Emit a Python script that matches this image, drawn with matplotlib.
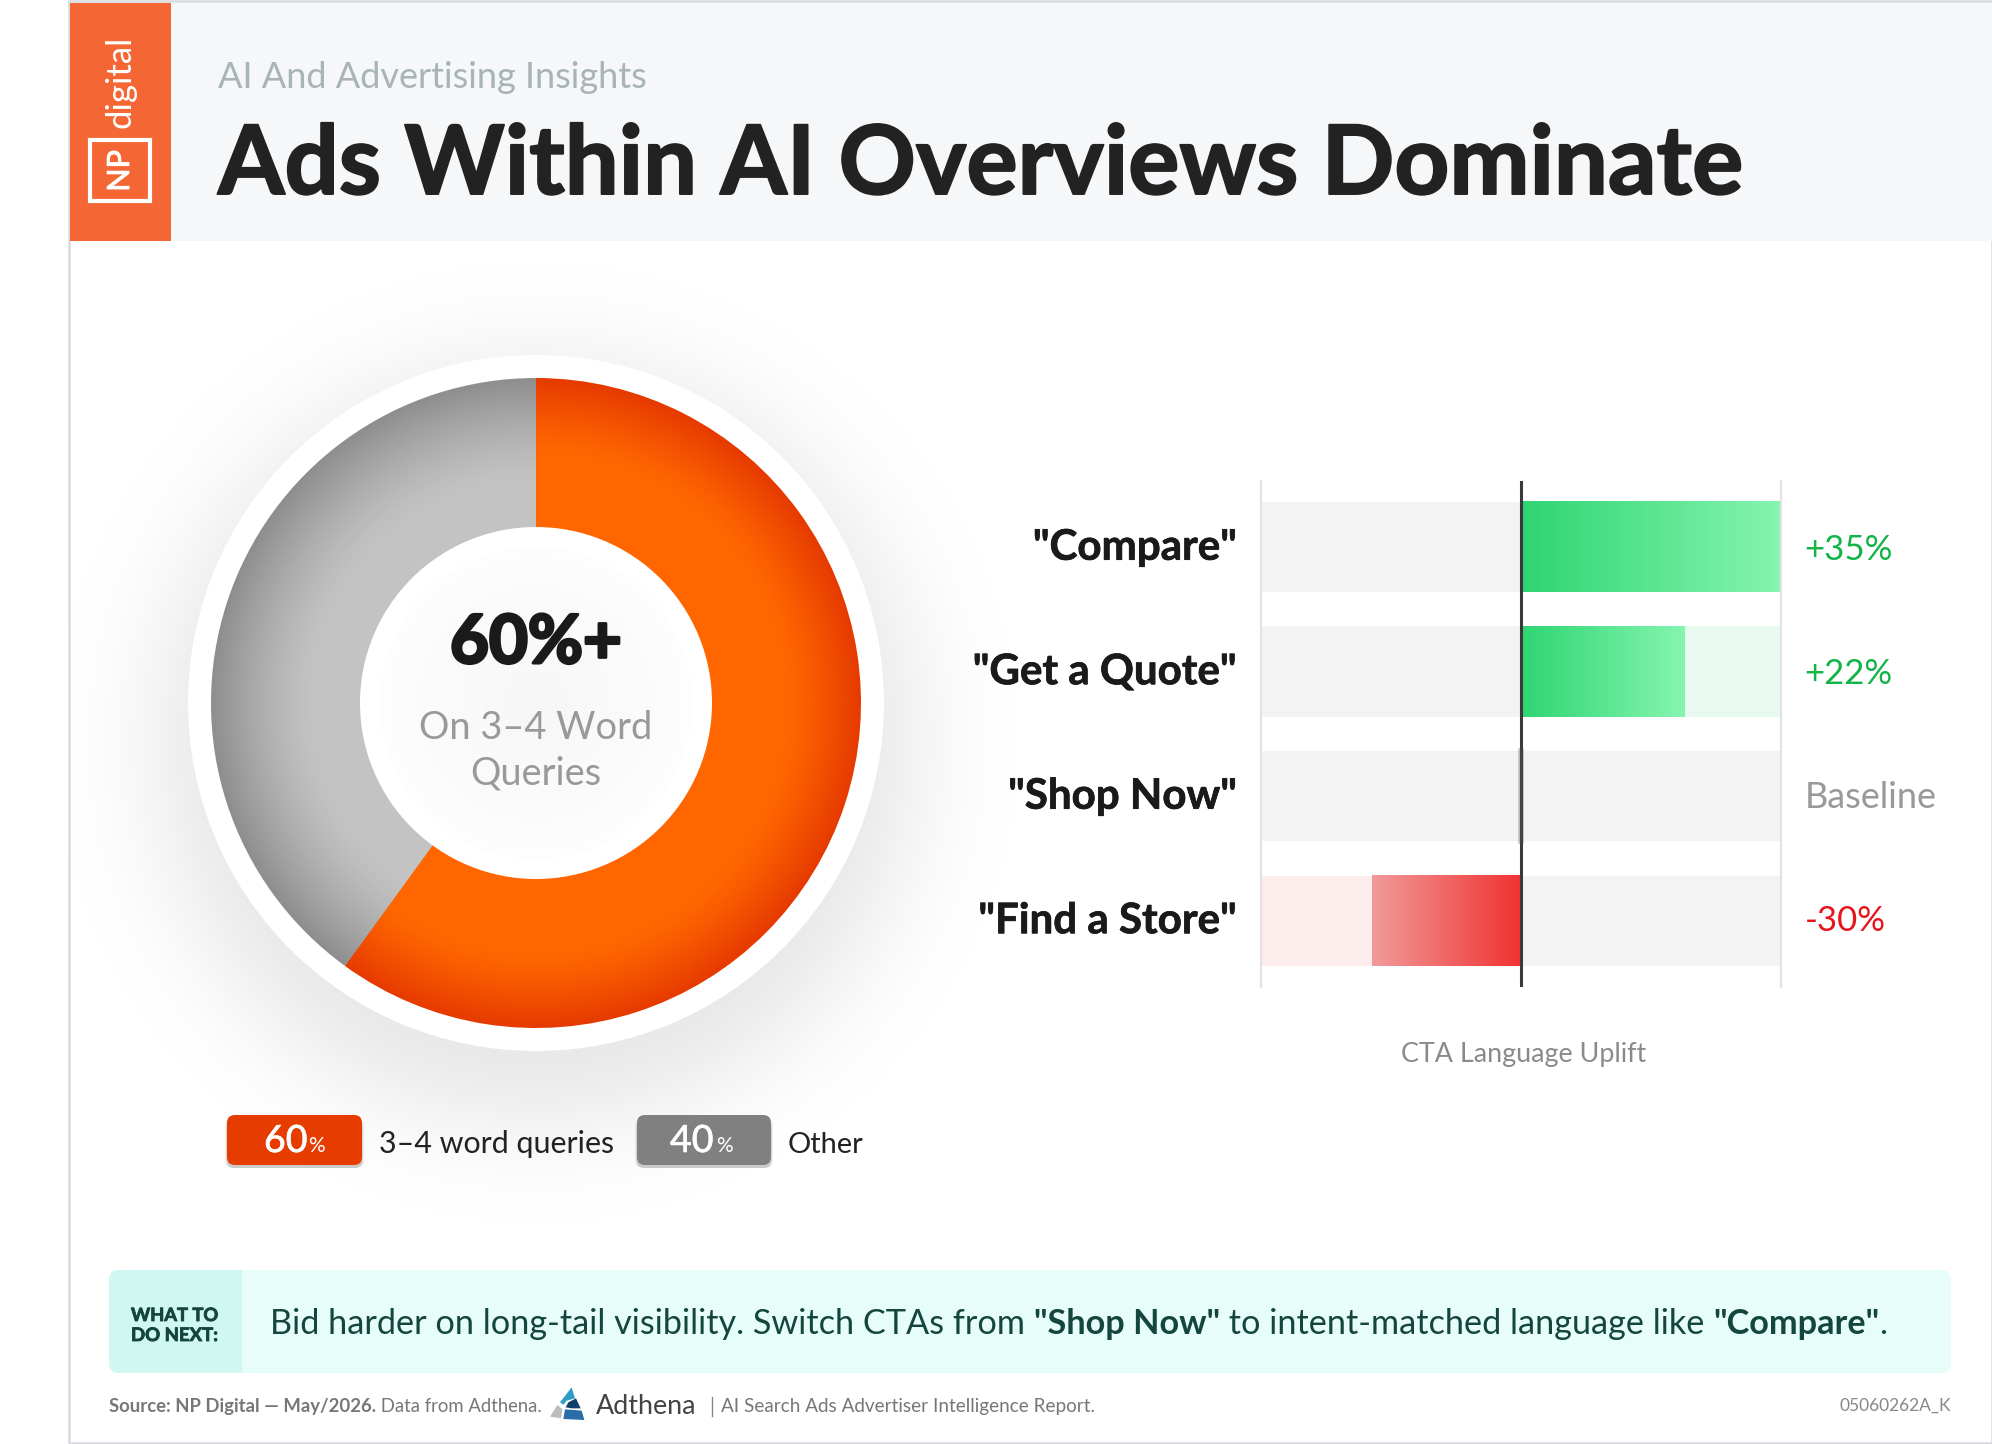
import numpy as np
import matplotlib
matplotlib.use("Agg")
import matplotlib.pyplot as plt
import matplotlib.patheffects as pe
from matplotlib.colors import LinearSegmentedColormap, to_rgb
from matplotlib.patches import Circle, FancyBboxPatch, Polygon, Rectangle

# chart values
donut_shares = [60, 40]
donut_center_big = "60%+"
donut_center_small = ["On 3–4 Word", "Queries"]
legend_values = ["60", "40"]
legend_labels = ["3–4 word queries", "Other"]
legend_colors = ["#E63C00", "#808080"]

cta_labels = ['"Compare"', '"Get a Quote"', '"Shop Now"', '"Find a Store"']
cta_texts = ["+35%", "+22%", "Baseline", "-30%"]
cta_text_colors = ["#12B347", "#12B347", "#999999", "#E8141C"]
# bar lengths as drawn in the picture (the red one is shorter than its label says)
cta_lengths = [35, 22, 0, -20]

W, H = 1992, 1444
plt.rcParams["font.family"] = ["Lato", "DejaVu Sans"]
fig = plt.figure(figsize=(W / 100, H / 100), dpi=100, facecolor="white")
renderer = fig.canvas.get_renderer()


def mix(c1, c2, t):
    a, b = np.array(to_rgb(c1)), np.array(to_rgb(c2))
    return tuple(a + (b - a) * t)


def px_axes(x0, y0, x1, y1, z=1):
    return fig.add_axes([x0 / W, 1 - y1 / H, (x1 - x0) / W, (y1 - y0) / H], zorder=z)


def thicken(t, lw):
    t.set_path_effects([pe.withStroke(linewidth=lw, foreground=t.get_color())])
    return t


def text_width(s, size, weight):
    probe = bg.text(0, 0, s + "|", fontsize=size, fontweight=weight)
    end = bg.text(0, 0, "|", fontsize=size, fontweight=weight)
    w = probe.get_window_extent(renderer).width - end.get_window_extent(renderer).width
    probe.remove()
    end.remove()
    return w


def fit(x, y, s, width, weight="normal", color="#222222", ha="left", z=5):
    # picks the font size that makes s as wide as width pixels
    size = 20 * width / text_width(s, 20, weight)
    return bg.text(x, y, s, fontsize=size, fontweight=weight, color=color, ha=ha, va="baseline", zorder=z)


def run(x, y, pieces, width, color):
    # one line of mixed weights, scaled to a total width
    total = sum(text_width(s, 20, w) for s, w in pieces)
    size = 20 * width / total
    for s, w in pieces:
        bg.text(x, y, s, fontsize=size, fontweight=w, color=color, va="baseline", zorder=5)
        x += text_width(s, size, w)


# background layer in pixel coordinates
bg = px_axes(0, 0, W, H, z=0)
bg.set_xlim(0, W)
bg.set_ylim(H, 0)
bg.axis("off")

# soft shadow behind the donut
yy, xx = np.mgrid[241:1300:2, 70:1150:2]
dist = np.hypot(xx - 536, yy - 742)
alpha = 0.09 * np.exp(-0.5 * (np.maximum(dist - 300, 0) / 72) ** 2)
shadow = np.zeros(dist.shape + (4,))
shadow[..., 3] = alpha
bg.imshow(shadow, extent=(70, 1150, 1300, 241), aspect="auto", zorder=1)
bg.set_xlim(0, W)
bg.set_ylim(H, 0)

# frame and header
bg.add_patch(Rectangle((69, 1), W - 69, H - 2, fc="none", ec="#D8DADD", lw=1.8, zorder=2))
bg.add_patch(Rectangle((171, 3), W - 171, 238, fc="#F6F7F9", ec="none", zorder=2))
bg.add_patch(Rectangle((70, 3), 101, 238, fc="#F46735", ec="none", zorder=3))
bg.add_patch(Rectangle((90, 140), 60, 61, fc="none", ec="white", lw=3, zorder=4))
thicken(bg.text(120, 171, "NP", color="white", fontsize=22, rotation=90, ha="center", va="center", zorder=5), 0.7)
bg.text(120, 128, "digital", color="white", fontsize=25, rotation=90, ha="center", va="bottom", zorder=5)

fit(218, 88, "AI And Advertising Insights", 431, color="#A9B4B8")
thicken(fit(218, 194, "Ads Within AI Overviews Dominate", 1525, weight="bold", color="#222222"), 1.4)

# legend badges
badge_boxes = [(227, 362), (637, 771)]
number_x = [(264, 308), (670, 716)]
label_x = [(379, 236), (788, 76)]
for i in range(2):
    x0, x1 = badge_boxes[i]
    for k in range(6):
        bg.add_patch(FancyBboxPatch((x0 - 2 + k * 0.4, 1118 + k), x1 - x0 + 4 - k * 0.8, 50 - k,
                                    boxstyle="round,pad=0,rounding_size=8", fc="black", ec="none",
                                    alpha=0.035, zorder=3))
    bg.add_patch(FancyBboxPatch((x0, 1115), x1 - x0, 50, boxstyle="round,pad=0,rounding_size=8",
                                fc=legend_colors[i], ec="none", zorder=4))
    a, b = number_x[i]
    thicken(bg.text(a, 1152, legend_values[i], fontsize=27, color="white", va="baseline", zorder=5), 0.5)
    bg.text(b, 1152, "%", fontsize=15, color="white", va="baseline", zorder=5)
    fit(label_x[i][0], 1153, legend_labels[i], label_x[i][1], color="#222222")

# call to action box
bg.add_patch(FancyBboxPatch((109, 1270), 1842, 103, boxstyle="round,pad=0,rounding_size=10",
                            fc="#E6FDFA", ec="none", zorder=2))
left = FancyBboxPatch((109, 1270), 200, 103, boxstyle="round,pad=0,rounding_size=10",
                      fc="#D0F7F2", ec="none", zorder=3)
bg.add_patch(left)
left.set_clip_path(Rectangle((100, 1260), 142, 125, transform=bg.transData))
thicken(fit(131, 1321, "WHAT TO", 87, weight="bold", color="#14463E"), 0.6)
thicken(fit(131, 1341, "DO NEXT:", 87, weight="bold", color="#14463E"), 0.6)
run(270, 1334, [("Bid harder on long-tail visibility. Switch CTAs from ", "normal"),
                ('"Shop Now"', "bold"),
                (" to intent-matched language like ", "normal"),
                ('"Compare"', "bold"), (".", "normal")], 1620, "#14463E")

# footer
run(109, 1412, [("Source: NP Digital — May/2026.", "bold"), (" Data from Adthena.", "normal")], 433, "#777777")
logo = [("#2E9CC4", [(125, 52), (135, 85), (110, 92), (100, 104), (90, 97)]),
        ("#123F6D", [(138, 85), (152, 115), (125, 115), (107, 112), (115, 97)]),
        ("#2A6CA8", [(105, 118), (155, 122), (163, 150), (100, 147)]),
        ("#BDBDBD", [(82, 105), (97, 117), (93, 145), (60, 140)])]
for col, pts in logo:
    bg.add_patch(Polygon([(530 + p / 3, 1370 + q / 3) for p, q in pts], fc=col, ec="none", zorder=4))
fit(596, 1414, "Adthena", 101, color="#444444")
bg.plot([712, 712], [1397, 1416], color="#888888", lw=1, zorder=4)
fit(721, 1412, "AI Search Ads Advertiser Intelligence Report.", 374, color="#777777")
fit(1951, 1411, "05060262A_K", 112, color="#888888", ha="right")

# donut, 1 data unit = 1 pixel
don = px_axes(536 - 360, 703 - 360, 536 + 360, 703 + 360)
don.add_patch(Circle((0, 0), 348, fc="white", ec="none"))
for r in np.arange(325, 176, -2):
    t = (r - 176) / (325 - 176)
    orange = mix("#FF6600", "#E63A00", np.clip((t - 0.5) / 0.5, 0, 1) ** 1.3)
    grey = mix("#C3C3C3", "#8E8E8E", np.clip((t - 0.3) / 0.7, 0, 1) ** 1.4)
    don.pie(donut_shares, radius=r, startangle=90, counterclock=False, colors=[orange, grey],
            wedgeprops={"linewidth": 0})
don.add_patch(Circle((0, 0), 176, fc="white", ec="none", zorder=3))
for r in np.arange(156, 0, -4):
    don.add_patch(Circle((0, 0), r, fc=mix("#F6F6F6", "#FDFDFD", r / 156), ec="none", zorder=3))
don.set_xlim(-360, 360)
don.set_ylim(-360, 360)
don.axis("off")
small_w = [233, 132]
small_y = [739, 785]

# cta bars
ax = px_axes(1261, 481, 1781, 987)
ax.set_xlim(-35, 35)
ax.set_ylim(3.534, -0.53)
row_h = 0.723
value_shift = [0, 0, 1, 1.8]
green = LinearSegmentedColormap.from_list("g", ["#2ED573", "#86F5B0"])
red = LinearSegmentedColormap.from_list("r", ["#F29A9A", "#F03232"])
ramp = np.linspace(0, 1, 256).reshape(1, -1)
for i, v in enumerate(cta_lengths):
    top, bot = i - row_h / 2, i + row_h / 2
    ax.barh(i, 35, left=-35, height=row_h, color="#F3F3F3", zorder=1)
    ax.barh(i, 35, left=0, height=row_h, color="#F3F3F3", zorder=1)
    if v > 0:
        ax.barh(i, 35 - v, left=v, height=row_h, color="#E8F9EF", zorder=2)
        ax.imshow(ramp, cmap=green, extent=(0, v, bot, top), aspect="auto", zorder=3)
    elif v < 0:
        ax.barh(i, -35 - v, left=v, height=row_h, color="#FDECEC", zorder=2)
        ax.imshow(ramp, cmap=red, extent=(v, 0, bot, top), aspect="auto", zorder=3)
    name = ax.annotate(cta_labels[i], (-35, i), xytext=(-17, 2), textcoords="offset points", ha="right",
                       va="center_baseline", fontsize=30.3, fontweight="bold", color="#1A1A1A",
                       annotation_clip=False)
    thicken(name, 0.5)
    ax.annotate(cta_texts[i], (35, i), xytext=(17, value_shift[i]), textcoords="offset points", ha="left",
                va="center_baseline", fontsize=26 if i == 2 else 25, color=cta_text_colors[i],
                annotation_clip=False)
ax.set_xlim(-35, 35)
ax.set_ylim(3.534, -0.53)
ax.axvline(0, color="#3A3A3A", lw=2.2, zorder=5)
ax.plot([0, 0], [2 - row_h / 2, 2 + row_h / 2], color="#555555", lw=4, alpha=0.35, zorder=6)
ax.axvline(-35, color="#E3E3E3", lw=1.6, zorder=5, clip_on=False)
ax.axvline(35, color="#E3E3E3", lw=1.6, zorder=5, clip_on=False)
ax.axis("off")
fit(1524, 1062, "CTA Language Uplift", 245, color="#8A8A8A", ha="center")

# centre text has to sit above the donut axes
over = px_axes(0, 0, W, H, z=3)
over.set_xlim(0, W)
over.set_ylim(H, 0)
over.axis("off")
bg = over
thicken(fit(536, 663, donut_center_big, 172, weight="bold", color="#1A1A1A", ha="center"), 2.2)
for s, w, y in zip(donut_center_small, small_w, small_y):
    fit(536, y, s, w, color="#999999", ha="center")

fig.savefig("out.png", dpi=100)
